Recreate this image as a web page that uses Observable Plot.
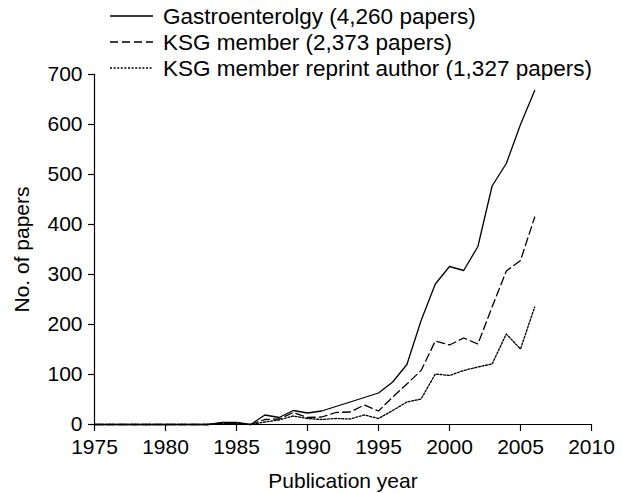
<!DOCTYPE html>
<html>
<head>
<meta charset="utf-8">
<script src="https://cdn.jsdelivr.net/npm/d3@7"></script>
<script src="https://cdn.jsdelivr.net/npm/@observablehq/plot@0.6"></script>
<style>
  html, body { margin: 0; padding: 0; background: #fff; }
  #wrap { position: relative; width: 622px; height: 493px; font-family: "Liberation Sans", Arial, sans-serif; }
  #legend { position: absolute; left: 0; top: 0; width: 622px; height: 80px; }
</style>
</head>
<body>
<div id="wrap"></div>
<script>
const years = d3.range(1975, 2007);
const gastro = [0,0,0,0,0,0,0,0,0, 4,4,0,19,14,28,23,27,36,45,54,63, 85,120,208,281,316,308,356,477,522,600,668];
const ksg    = [0,0,0,0,0,0,0,0,0, 3,3,0,10,11,24,14,15,24,25,39,27, 55,81,108,167,159,173,161,235,307,328,415];
const reprint= [0,0,0,0,0,0,0,0,0, 2,2,0,5,9,17,12,10,12,11,19,12, 28,45,51,101,98,108,115,121,181,151,235];
const seriesNames = ["Gastroenterolgy (4,260 papers)", "KSG member (2,373 papers)", "KSG member reprint author (1,327 papers)"];
const dashes = [null, "8,4", "2,1.6"];
const xTicks = [1975,1980,1985,1990,1995,2000,2005,2010];
const yTicks = [0,100,200,300,400,500,600,700];
const xLabel = "Publication year";
const yLabel = "No. of papers";

const seriesValues = [gastro, ksg, reprint];
const tables = seriesValues.map(vals => years.map((y, i) => ({year: y, value: vals[i]})));

const font = '"Liberation Sans", Arial, sans-serif';
const chart = Plot.plot({
  width: 622, height: 493,
  marginLeft: 94, marginRight: 31, marginTop: 74, marginBottom: 69,
  style: {fontFamily: font, fontSize: "21px", color: "black", background: "white", overflow: "visible"},
  x: {domain: [1975, 2010]},
  y: {domain: [0, 700]},
  marks: [
    Plot.axisX({ticks: xTicks, tickFormat: d => String(d), tickSize: 7, tickPadding: 8, label: null, strokeWidth: 1.2}),
    Plot.axisY({ticks: yTicks, tickSize: 6, tickPadding: 6, label: null, strokeWidth: 1.2}),
    Plot.ruleY([0], {strokeWidth: 1.2}),
    Plot.ruleX([1975], {strokeWidth: 1.2}),
    ...tables.map((t, i) => Plot.lineY(t, {x: "year", y: "value", stroke: "black", strokeWidth: 1.3, strokeDasharray: dashes[i]})),
    Plot.text([xLabel], {frameAnchor: "bottom", textAnchor: "middle", dy: 63, lineAnchor: "bottom", fontSize: 21}),
    Plot.text([yLabel], {frameAnchor: "left", textAnchor: "middle", rotate: -90, dx: -66, lineAnchor: "bottom", fontSize: 21})
  ]
});
const wrap = document.getElementById("wrap");
wrap.appendChild(chart);

// legend
const leg = d3.select(wrap).append("svg").attr("id", "legend").attr("width", 622).attr("height", 80);
const rowY = [16, 42, 68];
seriesNames.forEach((name, i) => {
  leg.append("line").attr("x1", 110).attr("x2", 153).attr("y1", rowY[i]).attr("y2", rowY[i])
    .attr("stroke", "black").attr("stroke-width", 1.3).attr("stroke-dasharray", dashes[i]);
  leg.append("text").attr("x", 163).attr("y", rowY[i] + 8).attr("font-family", font).attr("font-size", 22.5).text(name);
});
</script>
</body>
</html>
